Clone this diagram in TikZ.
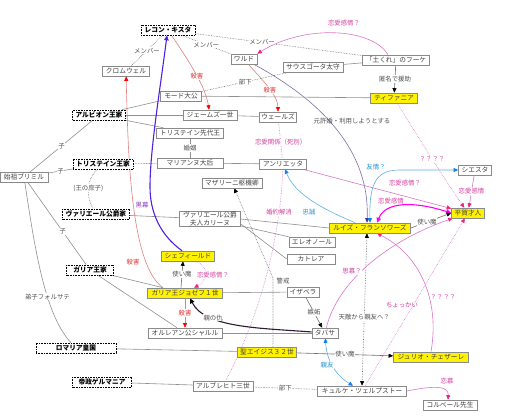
\documentclass[tikz,border=0pt]{standalone}
\usepackage{fontspec}
\setmainfont{Noto Sans CJK JP}
\usetikzlibrary{arrows.meta}
\pgfdeclarelayer{bg}
\pgfsetlayers{bg,main}
\newcommand\fsz{\fontsize{6.7}{7.6}\selectfont}
\newcommand\lsz{\fontsize{6.4}{7}\selectfont}
\definecolor{bordergray}{HTML}{8A8A8A}
\definecolor{boxtext}{HTML}{404040}
\definecolor{lblgray}{HTML}{505050}
\definecolor{lblred}{HTML}{E03030}
\definecolor{lblmag}{HTML}{D63FA0}
\definecolor{lblblue}{HTML}{2090D0}
\definecolor{lblpur}{HTML}{9040C0}
\definecolor{lngray}{HTML}{909090}
\definecolor{dotgray}{HTML}{707070}
\definecolor{killred}{HTML}{E08080}
\definecolor{mglc}{HTML}{D878C8}
\definecolor{mghc}{HTML}{F0207F}
\definecolor{bmgc}{HTML}{FF00F0}
\definecolor{blc}{HTML}{60B0E0}
\definecolor{blh}{HTML}{1080F0}
\definecolor{purc}{HTML}{8070A0}
\definecolor{purh}{HTML}{4030A0}
\definecolor{violc}{HTML}{5020E0}
\definecolor{darkc}{HTML}{301838}
\tikzset{
 box/.style={draw=bordergray, fill=white, text=boxtext, font=\fsz, inner xsep=1pt, inner ysep=0.5pt, minimum height=10pt, line width=0.6pt},
 yel/.style={box, fill=yellow},
 fam/.style={box, draw=black, densely dotted, text=black, font=\fsz\bfseries},
 lb/.style={font=\lsz, text=lblgray, fill=white, inner sep=0.6pt},
 lbr/.style={lb, text=lblred},
 lbm/.style={lb, text=lblmag},
 lbb/.style={lb, text=lblblue},
 lbp/.style={lb, text=lblpur},
 nf/.style={fill=none},
 gl/.style={draw=lngray, line width=0.6pt},
 dl/.style={draw=dotgray, densely dotted, line width=0.6pt},
 kill/.style={draw=killred, line width=0.6pt, -{Triangle[length=4.5pt,width=4pt,color=red]}},
 bkarr/.style={draw=dotgray, line width=0.6pt, -{Triangle[length=4.5pt,width=4pt,color=black]}},
 bkboth/.style={dl, {Triangle[length=4.5pt,width=4pt,color=black]}-{Triangle[length=4.5pt,width=4pt,color=black]}},
 mgline/.style={draw=mglc, line width=0.6pt, -{Triangle[length=4.5pt,width=4pt,color=mghc]}},
 mgdot/.style={mgline, densely dotted},
 mgplain/.style={draw=mglc, line width=0.6pt, densely dotted},
 bmg/.style={draw=bmgc, line width=1.1pt, {Triangle[length=5pt,width=4.5pt,color=bmgc]}-{Triangle[length=5pt,width=4.5pt,color=bmgc]}},
 bline/.style={draw=blc, line width=0.6pt, -{Triangle[length=4.5pt,width=4pt,color=blh]}},
 bboth/.style={draw=blc, line width=0.6pt, {Triangle[length=4.5pt,width=4pt,color=blh]}-{Triangle[length=4.5pt,width=4pt,color=blh]}},
 pline/.style={draw=purc, line width=0.6pt, -{Triangle[length=4.5pt,width=4pt,color=purh]}},
 vline/.style={draw=violc, line width=1.1pt, -{Triangle[length=5pt,width=4.5pt,color=violc]}},
 kline/.style={draw=darkc, line width=1.1pt, -{Triangle[length=5pt,width=4.5pt,color=black]}},
}
\begin{document}
\begin{tikzpicture}[x=1pt,y=-1pt]
\begin{pgfonlayer}{bg}
\fill[white] (0,0) rectangle (512,418);
\end{pgfonlayer}
\useasboundingbox (0,0) rectangle (512,418);
% nodes
\node[fam, minimum width=54pt] (reconquista) at (168,30) {レコン・キスタ};
\node[box, minimum width=47pt] (cromwell) at (126,71) {クロムウェル};
\node[box, minimum width=26pt] (wardes) at (244,59) {ワルド};
\node[box, minimum width=60pt] (saxe) at (313,67) {サウスゴータ太守};
\node[box, minimum width=67pt] (fouquet) at (396,60) {「土くれ」のフーケ};
\node[yel, minimum width=47pt] (tiffania) at (394,98) {ティファニア};
\node[box, minimum width=41pt] (maude) at (181,96) {モード大公};
\node[fam, minimum width=53pt] (albion) at (99,115) {アルビオン王家};
\node[box, minimum width=54pt] (james) at (210,115) {ジェームズ一世};
\node[box, minimum width=37pt] (wales) at (278,117) {ウェールズ};
\node[box, minimum width=67pt] (oldking) at (190,133) {トリステイン先代王};
\node[box, minimum width=66pt] (marianne) at (190,163) {マリアンヌ大后};
\node[fam, minimum width=60pt] (tristain) at (103,164) {トリステイン王家};
\node[box, minimum width=48pt] (brimir) at (24,177) {始祖ブリミル};
\node[fam, minimum width=67pt] (valliere) at (96,214) {ヴァリエール公爵家};
\node[box, minimum width=47pt] (henrietta) at (283,164) {アンリエッタ};
\node[box, minimum width=60pt] (mazarin) at (232,183) {マザリーニ枢機卿};
\node[box, minimum width=61pt, align=center] (karine) at (210,219) {ヴァリエール公爵\\夫人カリーヌ};
\node[box, minimum width=46pt] (eleonore) at (312,242) {エレオノール};
\node[box, minimum width=48pt] (cattleya) at (311,259) {カトレア};
\node[yel, minimum width=53pt] (sheffield) at (188,256) {シェフィールド};
\node[yel, minimum width=81pt] (louise) at (370,228) {ルイズ・フランソワーズ};
\node[box, minimum width=33pt] (siesta) at (475,170) {シエスタ};
\node[yel, minimum width=33pt] (saito) at (468,213) {平賀才人};
\node[fam, minimum width=47pt] (gallia) at (90,270) {ガリア王家};
\node[yel, minimum width=75pt] (joseph) at (185,293) {ガリア王ジョゼフ１世};
\node[box, minimum width=32pt] (isabella) at (303,292) {イザベラ};
\node[box, minimum width=26pt] (tabitha) at (325,333) {タバサ};
\node[box, minimum width=74pt] (orleans) at (185,333) {オルレアン公シャルル};
\node[yel, minimum width=59pt] (vittorio) at (267,352) {聖エイジス３２世};
\node[fam, minimum width=80pt] (romalia) at (76,348) {ロマリア皇国};
\node[fam, minimum width=59pt] (germania) at (102,382) {帝政ゲルマニア};
\node[box, minimum width=60pt] (albrecht) at (223,386) {アルブレヒト三世};
\node[box, minimum width=89pt] (kirche) at (362,391) {キュルケ・ツェルプストー};
\node[yel, minimum width=75pt] (julio) at (431,357) {ジュリオ・チェザーレ};
\node[box, minimum width=54pt] (colbert) at (450,405) {コルベール先生};
% edges
\begin{pgfonlayer}{bg}
\draw[dl] (reconquista) -- node[lb,pos=.5]{メンバー} (cromwell);
\draw[dl] (reconquista) -- node[lb,pos=.5]{メンバー} (wardes);
\draw[dl] (reconquista) -- node[lb,pos=.4]{メンバー} (fouquet);
\draw[kill] (reconquista) .. controls (188,60) and (205,85) .. node[lbr,pos=.55]{殺害} (james);
\draw[kill] ([xshift=-22pt]joseph.north) .. controls (130,265) and (128,150) .. (cromwell);
\draw[kill] (wardes) .. controls (262,80) and (278,95) .. node[lbr,pos=.55]{殺害} (wales);
\draw[mgline] ([xshift=-8pt]fouquet.north) .. controls (372,28) and (305,24) .. (wardes.north east);
\draw[pline] (wardes) .. controls (320,100) and (370,150) .. ([xshift=-3pt]louise.north);
\draw[gl] (saxe) -- (fouquet);
\draw[dl] (saxe) -- node[lb]{部下} (maude);
\draw[gl] (maude) -- (tiffania);
\draw[gl] (albion) -- (maude);
\draw[gl] (albion) -- (james);
\draw[gl] (albion) -- (oldking);
\draw[gl] (james) -- (wales);
\draw[bkarr] (fouquet) -- node[lb]{匿名で援助} (tiffania);
\draw[mgdot] (tiffania) .. controls (420,140) and (445,180) .. node[lbm,pos=.5]{？？？？} (saito);
\draw[mgplain] (wales) -- node[lbm,pos=.55]{恋愛関係（死別）} (henrietta);
\draw[gl] (brimir) -- node[lb]{子} (albion);
\draw[gl] (brimir) -- node[lb]{子} (tristain);
\draw[gl] (brimir) -- node[lb,pos=.6]{子} (gallia);
\draw[gl] (brimir) .. controls (35,250) and (45,315) .. node[lb,pos=.62]{弟子フォルサテ} (romalia);
\draw[dl] (tristain) .. controls (86,180) and (86,196) .. node[lb]{(王の庶子)} (valliere);
\draw[dl] (tristain) -- (marianne);
\draw[gl] (oldking) -- node[lb]{婚姻} (marianne);
\draw[gl] (marianne) -- (henrietta);
\draw[gl] (valliere) -- (karine);
\draw[gl] (karine.east) -- (louise.west);
\draw[gl] (karine) -- (eleonore);
\draw[gl] ([yshift=-5pt]karine.east) -- (cattleya.west);
\draw[mgplain] (henrietta) .. controls (281,220) and (268,300) .. node[lbm,pos=.25]{婚約解消} (albrecht);
\draw[dl, -{Triangle[length=4.5pt,width=4pt,color=black]}] ([xshift=6pt]vittorio.north) -- (273,278) -- (mazarin);
\draw[bline] ([xshift=-15pt]louise.north) .. controls (325,210) and (295,195) .. (henrietta);
\draw[bboth] (louise.north) .. controls (369,180) and (378,170) .. (400,170) -- (siesta.west);
\draw[mgline] (henrietta) -- (saito);
\draw[mgline] (siesta) -- node[lbm]{恋愛感情} (saito);
\draw[bmg] ([xshift=7pt]louise.north) .. controls (385,203) and (410,200) .. (saito.west);
\draw[bkarr] (louise.east) -- node[lb,pos=.4]{使い魔} (saito.west);
\draw[mgline] (tabitha) .. controls (338,280) and (390,240) .. (saito);
\draw[mgdot] (kirche) -- (saito);
\draw[mgline] (julio.north) .. controls (440,300) and (420,255) .. ([xshift=7pt]louise.south);
\draw[bkboth] (kirche.north) -- node[lb,pos=.45]{天敵から親友へ？} ([xshift=-3pt]louise.south);
\draw[bboth] (tabitha) .. controls (327,365) and (340,378) .. (kirche);
\draw[bkarr] (isabella) -- node[lb]{嫉妬} (tabitha);
\draw[kline] (tabitha) .. controls (260,328) and (205,328) .. node[lb,pos=.7]{親の仇} ([xshift=5pt]joseph.south);
\draw[kill] (joseph) -- node[lbr]{殺害} (orleans);
\draw[bkarr] ([xshift=-4pt]joseph.north) -- node[lb]{使い魔} ([xshift=-5pt]sheffield.south);
\draw[mgdot] ([xshift=8pt]sheffield.south) .. controls (212,268) and (205,282) .. ([xshift=9pt]joseph.north);
\draw[vline] ([xshift=-6pt]sheffield.north) .. controls (160,235) and (150,212) .. (150,187) .. controls (150,150) and (160,90) .. ([xshift=-1pt]reconquista.south);
\draw[gl] (gallia) -- (joseph);
\draw[gl] (gallia) -- (orleans);
\draw[gl] (joseph) -- (isabella);
\draw[gl] (orleans) -- (tabitha);
\draw[gl] (romalia) -- (vittorio);
\draw[bkarr] (vittorio) -- node[lb]{使い魔} (julio);
\draw[gl] (germania) -- (albrecht);
\draw[dl] (albrecht) -- node[lb]{部下} (kirche);
\draw[mgline] (kirche.east) .. controls (432,386) and (449,385) .. ([xshift=-2pt]colbert.north);
\end{pgfonlayer}
% free labels
\node[lbm,nf] (l1) at (344,23) {恋愛感情？};
\node[lb,nf] (l2) at (352,121) {元許婚・利用しようとする};
\node[lbb,nf] (l3) at (309,212) {忠誠};
\node[lbb,nf] (l4) at (376,167) {友情？};
\node[lbm,nf] (l5) at (405,183) {恋愛感情？};
\node[lbm,nf] (l6) at (391,201) {恋愛感情};
\node[lbm] (l7) at (352,271) {思慕？};
\node[lbm,nf] (l8) at (402,305) {ちょっかい};
\node[lbm,nf] (l9) at (443,297) {？？？？};
\node[lbp,nf] (l10) at (142,205) {黒幕};
\node[lb] (l11) at (283,281) {警戒};
\node[lbm,nf] (l12) at (447,381) {恋慕};
\node[lbr] (l13) at (133,262) {殺害};
\node[lbb] (l14) at (327,365) {親友};
\node[lbm] (l15) at (213,275) {恋愛感情？};
\end{tikzpicture}
\end{document}
